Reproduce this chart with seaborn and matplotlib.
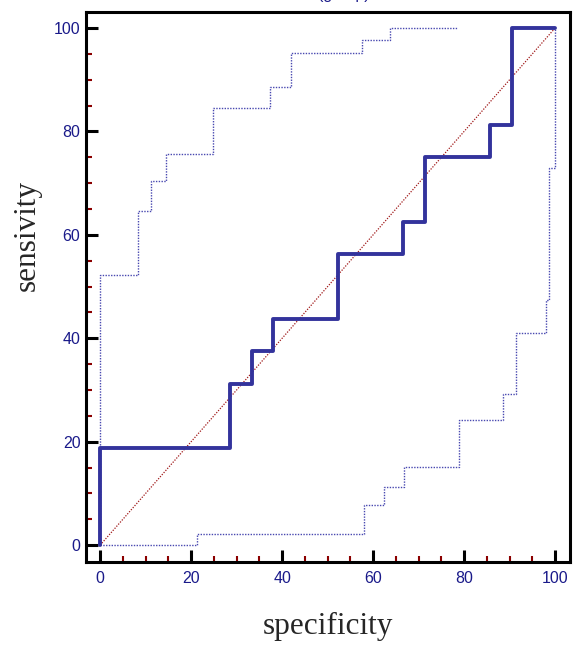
import matplotlib
matplotlib.use("Agg")
import matplotlib.pyplot as plt
import seaborn as sns
from matplotlib.ticker import MultipleLocator

# ROC curve (step corners)
spec = [0, 28.57, 33.33, 38.1, 52.38, 66.67, 71.43, 85.71, 90.48, 100]
sens = [0, 18.75, 31.25, 37.5, 43.75, 56.25, 62.5, 75, 81.25, 100]

# confidence bounds
upper_x = [0, 8.3, 11.2, 14.4, 24.9, 37.4, 42.0, 57.6, 63.7, 78.4]
upper_y = [0, 52.2, 64.7, 70.4, 75.6, 84.5, 88.6, 95.1, 97.6, 100]
lower_x = [0, 21.2, 57.9, 62.3, 66.8, 78.8, 88.5, 91.5, 98.0, 98.7, 100]
lower_y = [0, 2.1, 7.7, 11.2, 15.1, 24.2, 29.3, 41.0, 47.5, 72.9, 100]

diag = [0, 100]

sns.set_style("white")
plt.rcParams['font.family'] = ['Liberation Sans', 'DejaVu Sans']

fig = plt.figure(figsize=(5.77, 6.5), dpi=100)
ax = fig.add_axes([0.149, 0.135, 0.839, 0.8465])

sns.lineplot(x=diag, y=diag, ax=ax, color="#a01818", linewidth=0.9,
             linestyle=(0, (1, 1.2)))
sns.lineplot(x=upper_x, y=upper_y, ax=ax, sort=False, drawstyle="steps-pre",
             color="#4848b0", linewidth=1.0, linestyle=(0, (1, 1)))
sns.lineplot(x=lower_x, y=lower_y, ax=ax, sort=False, drawstyle="steps-post",
             color="#4848b0", linewidth=1.0, linestyle=(0, (1, 1)))
sns.lineplot(x=spec, y=sens, ax=ax, sort=False, drawstyle="steps-pre",
             color="#33339c", linewidth=2.8)

ax.set_xlim(-3.1, 103.3)
ax.set_ylim(-3.3, 103.1)
ax.set_xticks(range(0, 101, 20))
ax.set_yticks(range(0, 101, 20))
ax.xaxis.set_minor_locator(MultipleLocator(5))
ax.yaxis.set_minor_locator(MultipleLocator(5))
ax.tick_params(which="both", bottom=True, left=True, top=False, right=False)
ax.tick_params(which="major", direction="in", length=8.5, width=2.2,
               color="black", labelcolor="#1a1a8a", labelsize=11.5)
ax.tick_params(which="minor", direction="in", length=4.5, width=1.5,
               color="#8b0000")
ax.tick_params(axis="x", which="major", pad=6)
ax.tick_params(axis="y", which="major", pad=4)

for s in ax.spines.values():
    s.set_linewidth(2.2)
    s.set_color("black")

ax.set_xlabel("specificity", family="Liberation Serif", fontsize=22.5)
ax.set_ylabel("sensivity", family="Liberation Serif", fontsize=22.5)
ax.xaxis.set_label_coords(0.5, -0.09)
ax.yaxis.set_label_coords(-0.092, 0.593)

# title above the frame, clipped by the top edge as in the source
fig.text(0.595, 1.0 + 1 / 650, "(group)", ha="center", va="baseline",
         color="#1a1a8a", fontsize=11.5)

fig.savefig("out.png", dpi=100)
